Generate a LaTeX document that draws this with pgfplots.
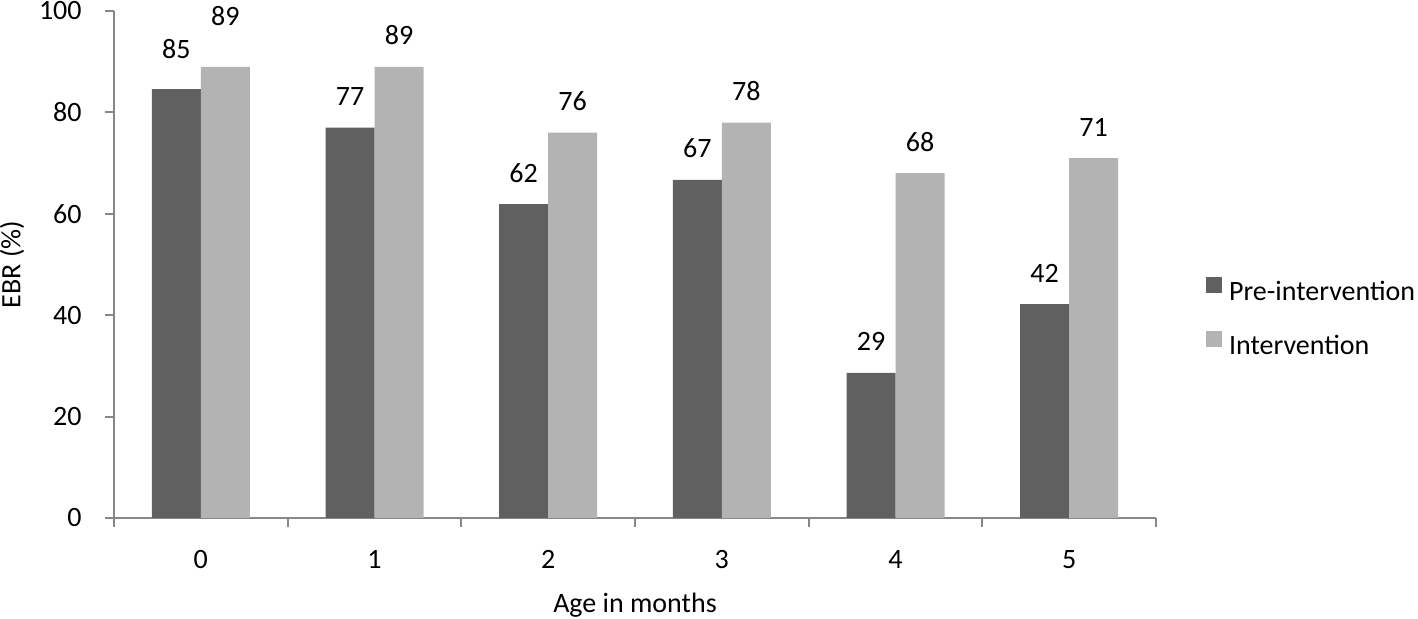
\documentclass[border=0pt]{standalone}
\usepackage{fontspec}
\setmainfont{Carlito}
\usepackage{pgfplots}
\usepackage{pgfplotstable}
\pgfplotsset{compat=1.18}
\definecolor{darkbar}{HTML}{606060}
\definecolor{lightbar}{HTML}{B3B3B3}
\definecolor{axisgray}{HTML}{878787}

\pgfplotstableread{
x y lab off
0 84.6 85 4.5
1 77.0 77 0
2 61.9 62 0
3 66.7 67 0
4 28.6 29 0
5 42.2 42 0
}\predata
\pgfplotstableread{
x y lab off
0 89.0 89 9.5
1 89.0 89 0
2 76.0 76 0
3 78.0 78 0
4 68.0 68 0
5 71.0 71 0
}\intdata

\begin{document}
\fontsize{14}{16.8}\selectfont
\begin{tikzpicture}
\useasboundingbox (0,0) rectangle (709pt,309.5pt);
\begin{axis}[
  at={(57pt,50.5pt)}, anchor=south west,
  scale only axis, width=521pt, height=253.5pt,
  clip=false,
  ybar=0pt, bar width=24.5pt,
  xmin=-0.5, xmax=5.5, ymin=0, ymax=100,
  axis x line*=bottom, axis y line*=left,
  axis line style={axisgray, line width=1pt, -},
  every tick/.style={axisgray, line width=1pt},
  tick align=outside, major tick length=4.5pt,
  xtick={-0.5,0.5,...,5.5}, x tick label as interval,
  xticklabels={0,1,2,3,4,5},
  ytick={0,20,...,100},
  /pgf/number format/assume math mode=true,
  xticklabel style={anchor=base, inner sep=0pt, yshift=-21pt},
  yticklabel style={anchor=east, inner sep=0pt, xshift=-11.5pt},
  xlabel={Age in months}, ylabel={EBR (\%)},
  every axis x label/.style={at={(axis description cs:0.5,0)}, yshift=-43.5pt, anchor=center},
  every axis y label/.style={at={(axis description cs:0,0.5)}, xshift=-51pt, rotate=90, anchor=center},
  nodes near coords={\pgfplotspointmeta},
  point meta=explicit symbolic,
  visualization depends on={\thisrow{off} \as \off},
  every node near coord/.append style={inner sep=0pt, anchor=base, yshift=11pt+\off pt, text=black},
  legend style={draw=none, fill=none, inner sep=0pt, outer sep=0pt,
    at={(axis description cs:1.048,0.4758)}, anchor=north west,
    nodes={inner sep=0pt, text height=10pt, text depth=3pt},
    row sep=12pt, column sep=3.5pt},
  legend cell align=left,
  legend image code/.code={\fill[#1] (0pt,0.4pt) rectangle (8pt,8.4pt);},
]
\addplot[fill=darkbar, draw=none] table[x=x, y=y, meta=lab] {\predata};
\addplot[fill=lightbar, draw=none] table[x=x, y=y, meta=lab] {\intdata};
\legend{Pre-intervention, Intervention}
\end{axis}
\end{tikzpicture}
\end{document}
